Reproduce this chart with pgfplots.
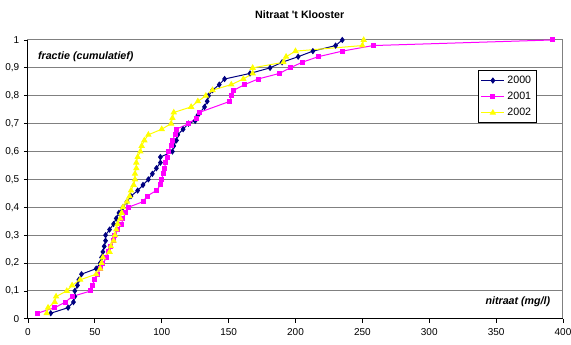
\documentclass[border=0pt]{standalone}
\usepackage{fontspec}
\setmainfont{Liberation Sans}
\usepackage{pgfplots}
\pgfplotsset{compat=1.18}
\definecolor{navyb}{RGB}{0,0,128}
\definecolor{mag}{RGB}{255,0,255}
\definecolor{yel}{RGB}{255,255,0}
\definecolor{gridg}{RGB}{128,128,128}
\begin{document}
\begin{tikzpicture}
\begin{axis}[
  scale only axis, width=401pt, height=209pt,
  xmin=0, xmax=400, ymin=0, ymax=1, clip=false,
  xtick={0,50,100,150,200,250,300,350,400},
  ytick={0,0.1,0.2,0.3,0.4,0.5,0.6,0.7,0.8,0.9,1},
  /pgf/number format/assume math mode=true,
  /pgf/number format/use comma,
  ticklabel style={font=\fontsize{7.5}{9}\selectfont},
  ymajorgrids, grid style={gridg, line width=0.75pt},
  axis line style={gridg, line width=0.75pt},
  tick style={black, line width=0.6pt},
  tick align=outside, tick pos=left, major tick length=3pt,
  xticklabel style={yshift=-1pt},
  legend style={at={(0.841,0.892)}, anchor=north west, draw=black, line width=0.6pt,
    font=\fontsize{8}{9.6}\selectfont, row sep=1pt, inner sep=2pt},
  legend cell align=left,
]
\draw[black, line width=0.75pt] (rel axis cs:0,0) -- (rel axis cs:0,1);
\draw[black, line width=0.75pt] (rel axis cs:0,0) -- (rel axis cs:1,0);
\coordinate (BBsw) at (rel axis cs:-0.0523,-0.0932);
\coordinate (BBne) at (rel axis cs:1.015,1.1434);
\node[anchor=center, font=\fontsize{8}{9.6}\selectfont\bfseries] at (rel axis cs:0.508,1.09) {Nitraat \textquotesingle t Klooster};
\node[anchor=west, font=\fontsize{8}{9.6}\selectfont\bfseries\itshape] at (axis cs:4,0.94) {fractie (cumulatief)};
\node[anchor=east, font=\fontsize{8}{9.6}\selectfont\bfseries\itshape] at (axis cs:394,0.06) {nitraat (mg/l)};

\addplot[navyb, line width=0.75pt, mark=diamond*, mark size=1.8pt] coordinates {
(17,0.02)(30,0.04)(34,0.06)(35,0.08)(35,0.10)(37,0.12)(38,0.14)(40,0.16)(51,0.18)(54,0.20)
(55,0.22)(56,0.24)(57,0.26)(58,0.28)(58,0.30)(61,0.32)(64,0.34)(66,0.36)(68,0.38)(71,0.40)
(74,0.42)(77,0.44)(82,0.46)(86,0.48)(90,0.50)(93,0.52)(96,0.54)(99,0.56)(99,0.58)(108,0.60)
(109,0.62)(111,0.64)(112,0.66)(116,0.68)(120,0.70)(125,0.71)(127,0.73)(132,0.76)(134,0.78)(135,0.80)
(138,0.82)(143,0.84)(147,0.86)(166,0.88)(181,0.90)(190,0.92)(202,0.94)(213,0.96)(230,0.98)(235,1.00)
};
\addlegendentry{2000}
\addplot[mag, line width=0.75pt, mark=square*, mark size=1.5pt] coordinates {
(7,0.02)(20,0.04)(28,0.06)(33,0.08)(47,0.10)(48,0.12)(50,0.14)(52,0.16)(54,0.18)(56,0.20)
(59,0.22)(60,0.24)(62,0.26)(64,0.28)(65,0.30)(67,0.32)(70,0.34)(71,0.36)(73,0.38)(75,0.40)
(86,0.42)(89,0.44)(96,0.46)(99,0.48)(100,0.50)(101,0.52)(102,0.54)(103,0.56)(104,0.58)(105,0.60)
(107,0.62)(108,0.64)(110,0.66)(111,0.68)(120,0.70)(126,0.72)(128,0.74)(151,0.78)(152,0.80)(154,0.82)
(162,0.84)(172,0.86)(188,0.88)(196,0.90)(205,0.92)(217,0.94)(235,0.96)(258,0.98)(392,1.00)
};
\addlegendentry{2001}
\addplot[yel, line width=0.75pt, mark=triangle*, mark size=2.1pt] coordinates {
(14,0.02)(15,0.04)(20,0.06)(21,0.08)(29,0.10)(33,0.12)(39,0.14)(51,0.16)(54,0.18)(55,0.20)
(56,0.22)(61,0.24)(62,0.26)(64,0.28)(65,0.30)(66,0.32)(67,0.34)(69,0.36)(70,0.38)(71,0.40)
(74,0.42)(76,0.44)(77,0.46)(79,0.48)(80,0.50)(80,0.52)(81,0.54)(81,0.56)(82,0.58)(84,0.60)
(85,0.62)(87,0.64)(90,0.66)(100,0.68)(107,0.70)(108,0.72)(109,0.74)(122,0.76)(127,0.78)(133,0.80)
(138,0.82)(152,0.84)(161,0.86)(168,0.88)(168,0.90)(191,0.92)(193,0.94)(200,0.96)(250,0.98)(251,1.00)
};
\addlegendentry{2002}
\end{axis}
\pgfresetboundingbox
\useasboundingbox (BBsw) rectangle (BBne);
\end{tikzpicture}
\end{document}
